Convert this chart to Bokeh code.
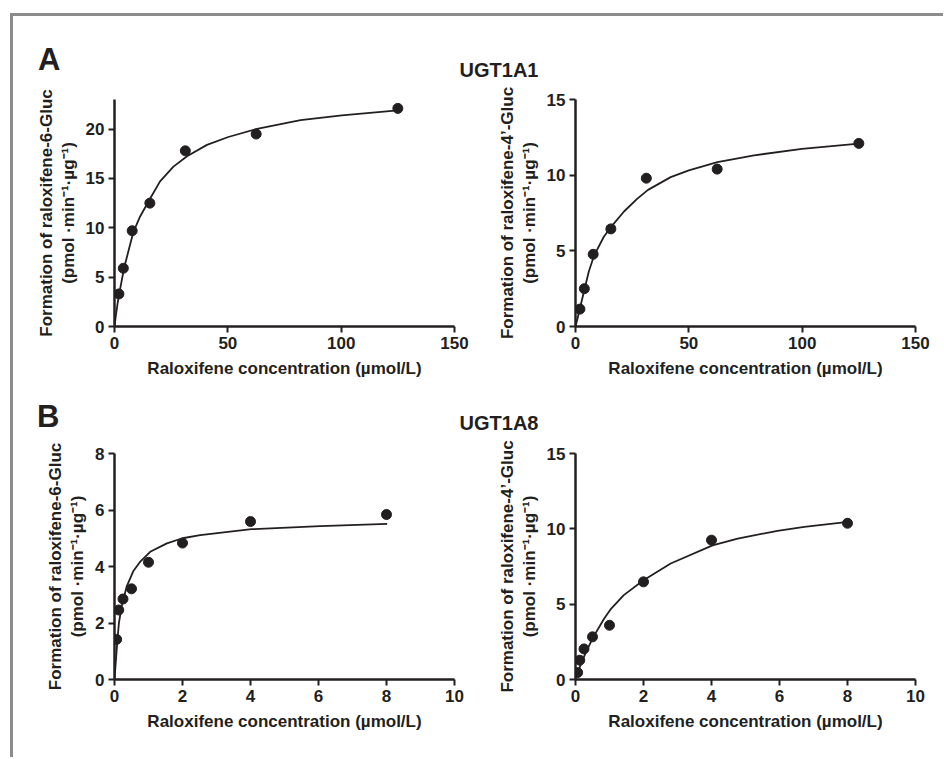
from bokeh.plotting import figure
from bokeh.layouts import column, row
from bokeh.models import Range1d, FixedTicker, Div
from bokeh.embed import file_html
from bokeh.resources import INLINE

# ---------------- data ----------------
conc_a = [1.95, 3.9, 7.8, 15.6, 31.25, 62.5, 125]
ugt1a1_6gluc = [3.3, 5.9, 9.7, 12.5, 17.8, 19.5, 22.1]
ugt1a1_4gluc = [1.15, 2.5, 4.77, 6.45, 9.8, 10.4, 12.1]

conc_b = [0.0625, 0.125, 0.25, 0.5, 1, 2, 4, 8]
ugt1a8_6gluc = [1.42, 2.46, 2.85, 3.21, 4.15, 4.83, 5.59, 5.84]
ugt1a8_4gluc = [0.46, 1.28, 2.03, 2.83, 3.6, 6.48, 9.25, 10.37]

# fitted curves
fit_a6_x = [0, 0.6, 1.3, 2.2, 4.3, 8.3, 11.3, 15.8, 20.1, 26, 32, 40.8, 50.2, 63.4, 82.1, 100.3, 125]
fit_a6_y = [0, 1.1, 2.25, 3.45, 6.0, 9.55, 11.15, 13.0, 14.7, 16.2, 17.25, 18.4, 19.2, 20.06, 20.9, 21.4, 21.9]

fit_a4_x = [0, 1.0, 2.2, 3.8, 5.9, 8.3, 12.5, 15.8, 21.4, 27.3, 32, 42, 50, 62.6, 78.8, 99.9, 125]
fit_a4_y = [0, 0.6, 1.35, 2.35, 3.65, 4.72, 5.93, 6.6, 7.6, 8.45, 9.03, 9.87, 10.32, 10.86, 11.31, 11.74, 12.08]

fit_b6_x = [0, 0.044, 0.083, 0.13, 0.21, 0.36, 0.55, 0.75, 1.05, 1.54, 2.0, 2.52, 4.03, 6.05, 8.02]
fit_b6_y = [0, 0.72, 1.36, 2.0, 2.58, 3.3, 3.83, 4.16, 4.52, 4.82, 5.0, 5.11, 5.32, 5.43, 5.51]

fit_b4_x = [0, 0.069, 0.196, 0.344, 0.54, 0.835, 1.03, 1.42, 2.0, 2.8, 4.03, 4.77, 5.94, 6.73, 8.02]
fit_b4_y = [0, 0.47, 1.23, 2.0, 2.88, 4.02, 4.65, 5.6, 6.59, 7.7, 8.9, 9.35, 9.87, 10.13, 10.46]

ticks_x_a = [0, 50, 100, 150]
ticks_x_b = [0, 2, 4, 6, 8, 10]
ticks_y_a6 = [0, 5, 10, 15, 20]
ticks_y_15 = [0, 5, 10, 15]
ticks_y_b6 = [0, 2, 4, 6, 8]

panel_letters = ["A", "B"]
enzymes = ["UGT1A1", "UGT1A8"]

xlabel = "Raloxifene concentration (\u00b5mol/L)"
ylabel_6 = "Formation of raloxifene-6-Gluc\n(pmol \u00b7min\u207b\u00b9\u00b7\u00b5g\u207b\u00b9)"
ylabel_4 = "Formation of raloxifene-4\u2019-Gluc\n(pmol \u00b7min\u207b\u00b9\u00b7\u00b5g\u207b\u00b9)"

INK = "#231f20"
GRAY = "#8c8c8c"
FONT = "Liberation Sans"


def panel(px, py, fx, fy, xr, yr, xt, yt, ylab, w, h, mbl, mbr, mbt, mbb):
    p = figure(width=w, height=h, x_range=Range1d(*xr), y_range=Range1d(*yr),
               toolbar_location=None, output_backend="svg", title=None,
               min_border_left=mbl, min_border_right=mbr,
               min_border_top=mbt, min_border_bottom=mbb, margin=0)
    p.outline_line_color = None
    p.grid.visible = False
    p.background_fill_color = "white"
    p.border_fill_color = "white"
    p.line(fx, fy, line_color=INK, line_width=1.8)
    p.scatter(px, py, size=10, fill_color=INK, line_color=INK)
    p.xaxis.ticker = FixedTicker(ticks=xt)
    p.yaxis.ticker = FixedTicker(ticks=yt)
    p.xaxis.axis_label = xlabel
    p.yaxis.axis_label = ylab
    for ax in (p.xaxis, p.yaxis):
        ax.axis_line_color = INK
        ax.axis_line_width = 2.5
        ax.major_tick_line_color = INK
        ax.major_tick_line_width = 2
        ax.major_tick_out = 6
        ax.major_tick_in = 0
        ax.minor_tick_line_color = None
        ax.major_label_text_font = FONT
        ax.major_label_text_font_style = "bold"
        ax.major_label_text_font_size = "17px"
        ax.major_label_text_color = INK
        ax.axis_label_text_font = FONT
        ax.axis_label_text_font_style = "bold"
        ax.axis_label_text_font_size = "17px"
        ax.axis_label_text_color = INK
    p.xaxis.major_label_standoff = 4
    p.yaxis.major_label_standoff = 4
    p.xaxis.axis_label_standoff = 7
    p.yaxis.axis_label_standoff = 5
    p.yaxis.axis_label_text_line_height = 1.15
    return p


def header(w, h, letter, enzyme, letter_left, letter_top, enzyme_center, enzyme_top):
    html = (
        f'<div style="position:relative;width:{w}px;height:{h}px;margin:0;padding:0;'
        f"font-family:'{FONT}',Arial,sans-serif;font-weight:bold;color:{INK};\">"
        f'<div style="position:absolute;left:{letter_left}px;top:{letter_top}px;'
        f'font-size:31px;line-height:31px;white-space:nowrap;">{letter}</div>'
        f'<div style="position:absolute;left:{enzyme_center}px;top:{enzyme_top}px;'
        f'font-size:20px;line-height:20px;white-space:nowrap;transform:translateX(-50%);">{enzyme}</div>'
        '</div>'
    )
    return Div(text=html, width=w, height=h, margin=0)


f1 = panel(conc_a, ugt1a1_6gluc, fit_a6_x, fit_a6_y, (0, 150), (0, 23),
           ticks_x_a, ticks_y_a6, ylabel_6, 472, 308, 101, 31, 19, 62)
f2 = panel(conc_a, ugt1a1_4gluc, fit_a4_x, fit_a4_y, (0, 150), (0, 15),
           ticks_x_a, ticks_y_15, ylabel_4, 458, 308, 90, 28, 19, 62)
f3 = panel(conc_b, ugt1a8_6gluc, fit_b6_x, fit_b6_y, (0, 10), (0, 8),
           ticks_x_b, ticks_y_b6, ylabel_6, 472, 317, 101, 31, 13, 78)
f4 = panel(conc_b, ugt1a8_4gluc, fit_b4_x, fit_b4_y, (0, 10), (0, 15),
           ticks_x_b, ticks_y_15, ylabel_4, 458, 317, 90, 28, 13, 78)

head_a = header(930, 64, panel_letters[0], enzymes[0], 25, 27.8, 486, 43.8)
head_b = header(930, 52, panel_letters[1], enzymes[1], 24, 12.8, 486, 25.1)

inner = column(head_a, row(f1, f2, margin=0), head_b, row(f3, f4, margin=0),
               margin=(3, 0, 0, 3), styles={"background-color": "white"})
outer = column(inner, margin=(13, 0, 0, 10), styles={"background-color": GRAY})

open("out.html", "w").write(file_html(outer, INLINE, title="Raloxifene glucuronidation"))
